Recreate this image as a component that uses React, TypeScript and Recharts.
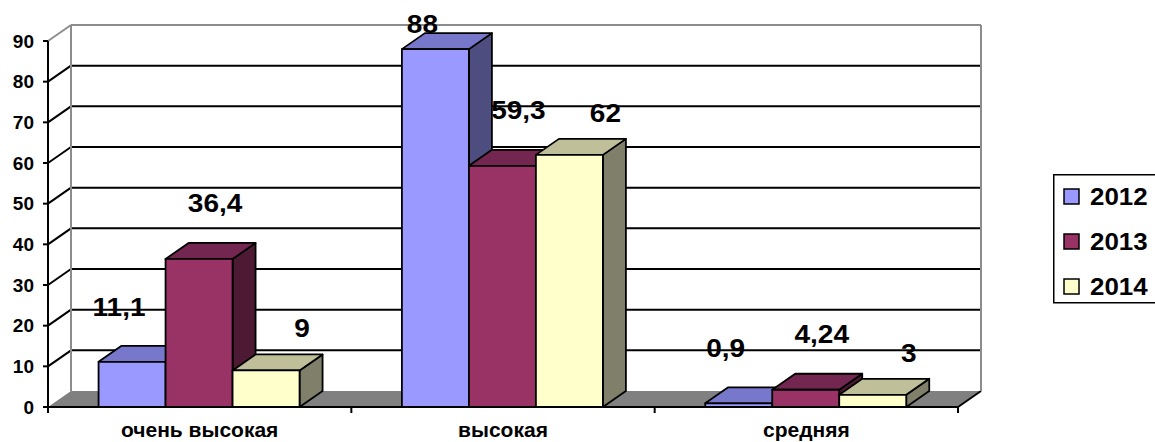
import { Bar, BarChart, CartesianGrid, LabelList, Legend, XAxis, YAxis } from "recharts";

const categories = ["очень высокая", "высокая", "средняя"];
const values2012 = [11.1, 88, 0.9];
const values2013 = [36.4, 59.3, 4.24];
const values2014 = [9, 62, 3];
const yTicks = [0, 10, 20, 30, 40, 50, 60, 70, 80, 90];

const data = categories.map((name, i) => ({
  name,
  y2012: values2012[i],
  y2013: values2013[i],
  y2014: values2014[i],
}));

const FONT = "'Liberation Sans', Arial, sans-serif";
// oblique depth of the 3d box
const DX = 23;
const DY = -16;

const faces: Record<string, { top: string; side: string }> = {
  "#9999FF": { top: "#7777CC", side: "#4D4D80" },
  "#993366": { top: "#732650", side: "#4D1A33" },
  "#FFFFCC": { top: "#BFBF99", side: "#80806A" },
};

const fmt = (v: unknown) => String(v).replace(".", ",");

function Box3D(props: any) {
  const { x, y, width, height, fill } = props;
  if (x == null || y == null) return null;
  const f = faces[fill] ?? { top: fill, side: fill };
  const r = x + width;
  const b = y + height;
  return (
    <g stroke="#000" strokeWidth={1.8} strokeLinejoin="round">
      <path d={`M${r},${y} L${r + DX},${y + DY} L${r + DX},${b + DY} L${r},${b} Z`} fill={f.side} />
      <path d={`M${x},${y} L${x + DX},${y + DY} L${r + DX},${y + DY} L${r},${y} Z`} fill={f.top} />
      <rect x={x} y={y} width={width} height={height} fill={fill} />
    </g>
  );
}

// grid lines become the back wall, left wall and floor
function wallLine(p: any) {
  const { x1, x2, y1, index } = p;
  const top = p.y;
  const bottom = p.y + p.height;
  if (Math.abs(y1 - bottom) < 0.5) {
    const step = (x2 - x1) / categories.length;
    return (
      <g key={`w${index}`}>
        <polygon
          points={`${x1},${y1} ${x2},${y1} ${x2 + DX},${y1 + DY} ${x1 + DX},${y1 + DY}`}
          fill="#808080"
        />
        <line x1={x2} y1={y1} x2={x2 + DX} y2={y1 + DY} stroke="#000" strokeWidth={2} />
        {categories.concat("").map((_, i) => (
          <line key={i} x1={x1 + i * step} x2={x1 + i * step} y1={y1} y2={y1 + 6} stroke="#000" strokeWidth={2} />
        ))}
      </g>
    );
  }
  if (Math.abs(y1 - top) < 0.5) {
    return (
      <g key={`w${index}`} stroke="#8C8C8C" strokeWidth={2}>
        <line x1={x1 + DX} y1={y1 + DY} x2={x2 + DX} y2={y1 + DY} />
        <line x1={x1} y1={y1} x2={x1 + DX} y2={y1 + DY} />
        <line x1={x1 + DX} y1={y1 + DY} x2={x1 + DX} y2={bottom + DY} />
        <line x1={x2 + DX} y1={y1 + DY} x2={x2 + DX} y2={bottom + DY} />
      </g>
    );
  }
  return (
    <g key={`w${index}`} stroke="#000" strokeWidth={2}>
      <line x1={x1 + DX} y1={y1 + DY} x2={x2 + DX} y2={y1 + DY} />
      <line x1={x1} y1={y1} x2={x1 + DX} y2={y1 + DY} />
    </g>
  );
}

function CategoryTick(props: any) {
  const { x, y, payload } = props;
  return (
    <text x={x} y={y + 30} textAnchor="middle" fontFamily={FONT} fontWeight="bold" fontSize={21} fill="#000">
      {payload.value}
    </text>
  );
}

const makeLabel = (dx: number, rise: number) => (p: any) => {
  const vb = p.viewBox ?? {};
  const x = Number(p.x ?? vb.x);
  const y = Number(p.y ?? vb.y);
  const w = Number(p.width ?? vb.width);
  const cx = x + w / 2 + dx;
  const cy = Math.max(y - rise, 24);
  return (
    <g transform={`translate(${cx},${cy}) scale(1.12,1)`}>
      <text y={25 * 0.358} textAnchor="middle" fontFamily={FONT} fontWeight="bold" fontSize={25} fill="#000">
        {fmt(p.value)}
      </text>
    </g>
  );
};

function LegendBox({ payload }: any) {
  return (
    <svg width={102} height={130} style={{ display: "block" }}>
      <path d="M110,0.75 L0.75,0.75 L0.75,128.75 L110,128.75" fill="none" stroke="#000" strokeWidth={1.5} />
      {(payload ?? []).map((e: any, i: number) => {
        const cy = 22.5 + i * 45;
        return (
          <g key={e.value}>
            <rect x={11} y={cy - 7.5} width={15} height={15} fill={e.color} stroke="#000" strokeWidth={1.5} />
            <g transform={`translate(37,${cy}) scale(1.08,1)`}>
              <text y={24 * 0.358} fontFamily={FONT} fontWeight="bold" fontSize={24} fill="#000">
                {e.value}
              </text>
            </g>
          </g>
        );
      })}
    </svg>
  );
}

export default function App() {
  return (
    <div style={{ position: "absolute", left: 0, top: 0, background: "#fff" }}>
      <BarChart
        width={1155}
        height={442}
        data={data}
        margin={{ top: 41, right: 197, bottom: 0, left: 0 }}
        barCategoryGap="16.67%"
        barGap={0}
      >
        <CartesianGrid vertical={false} horizontal={wallLine} />
        <XAxis
          dataKey="name"
          height={35}
          interval={0}
          axisLine={{ stroke: "#000", strokeWidth: 2 }}
          tickLine={false}
          tickSize={0}
          tickMargin={0}
          tick={<CategoryTick />}
        />
        <YAxis
          width={48}
          domain={[0, 90]}
          ticks={yTicks}
          interval={0}
          axisLine={{ stroke: "#000", strokeWidth: 2 }}
          tickLine={{ stroke: "#000", strokeWidth: 2 }}
          tickSize={5}
          tickMargin={9}
          tick={{ fill: "#000", fontSize: 19, fontWeight: "bold", fontFamily: FONT }}
        />
        <Legend
          layout="vertical"
          align="center"
          verticalAlign="middle"
          wrapperStyle={{ left: 1053, top: 174, width: 102, height: 130 }}
          content={<LegendBox />}
        />
        <Bar dataKey="y2012" name="2012" fill="#9999FF" shape={Box3D} isAnimationActive={false}>
          <LabelList dataKey="y2012" content={makeLabel(-13, 55)} />
        </Bar>
        <Bar dataKey="y2013" name="2013" fill="#993366" shape={Box3D} isAnimationActive={false}>
          <LabelList dataKey="y2013" content={makeLabel(16, 56)} />
        </Bar>
        <Bar dataKey="y2014" name="2014" fill="#FFFFCC" shape={Box3D} isAnimationActive={false}>
          <LabelList dataKey="y2014" content={makeLabel(36, 42)} />
        </Bar>
      </BarChart>
    </div>
  );
}
